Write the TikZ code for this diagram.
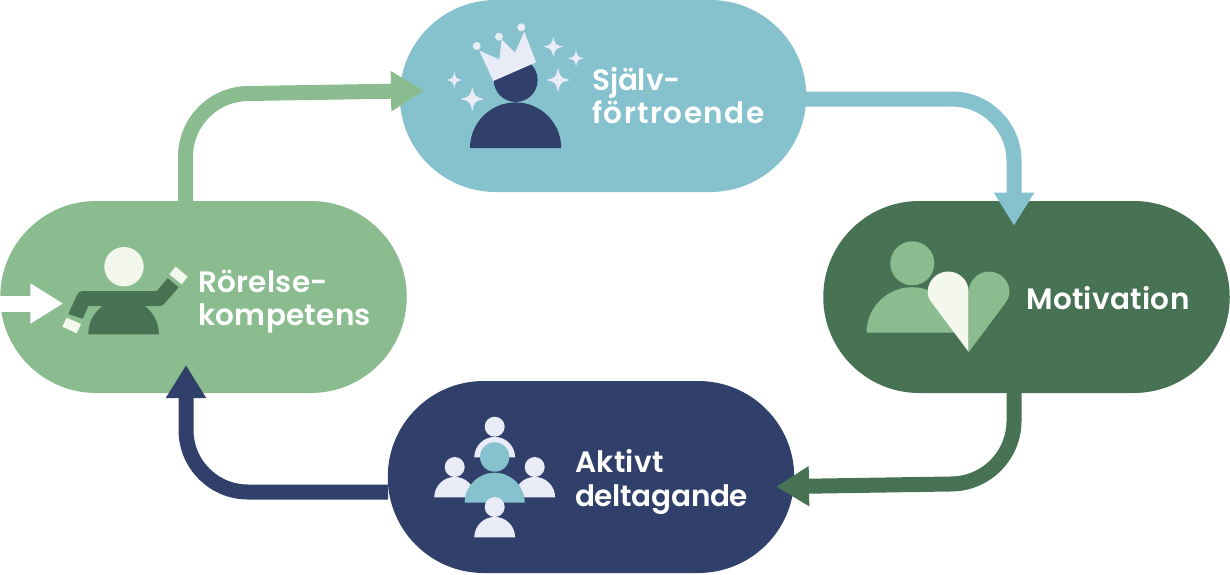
\documentclass[tikz,border=0pt]{standalone}
\usepackage{fontspec}
\setmainfont{Poppins}[BoldFont={Poppins SemiBold},LetterSpace=1]
\usetikzlibrary{arrows.meta}
\definecolor{lgreen}{HTML}{8ABC90}
\definecolor{dgreen}{HTML}{477254}
\definecolor{lblue}{HTML}{86C1CE}
\definecolor{navy}{HTML}{30406A}
\definecolor{paleb}{HTML}{E9EBF6}
\definecolor{paleg}{HTML}{F4F7EC}
\tikzset{
 pill/.style={rounded corners=96pt,minimum width=406.5pt,minimum height=192pt,inner sep=0pt,draw=none},
 lab/.style={text=white,font=\fontsize{29.5}{33.5}\selectfont\bfseries,align=left,anchor=west,inner sep=0pt},
 conn/.style={line width=15pt,rounded corners=62pt,-{Triangle[length=33pt,width=38pt]}},
}
\begin{document}
\begin{tikzpicture}[x=1pt,y=-1pt]
\useasboundingbox (0,0) rectangle (1230,574);
\node[pill,fill=lblue] (sj) at (603,96) {};
\node[pill,fill=lgreen] (ro) at (203.5,297) {};
\node[pill,fill=dgreen] (mo) at (1026.5,297) {};
\node[pill,fill=navy] (ak) at (591,477) {};
\node[lab] (tsj) at (592,95.5) {{\addfontfeature{LetterSpace=-0.5}Själv-}\\{\addfontfeature{LetterSpace=5}förtroende}};
\node[lab] (tro) at (198,301.5) {Rörelse-\\kompetens};
\node[lab] (tmo) at (1026,298) {Motivation};
\node[lab] (tak) at (575,482) {Aktivt\\{\addfontfeature{LetterSpace=-1}deltagande}};
% connectors
\coordinate (c1a) at (185.5,201);\coordinate (c1b) at (185.5,94.5);\coordinate (c1c) at (424,90.7);
\draw[conn,draw=lgreen] (c1a) -- (c1b) -- (c1c);
\coordinate (c2a) at (806,99);\coordinate (c2b) at (1014,99);\coordinate (c2c) at (1014,225.7);
\draw[conn,draw=lblue] (c2a) -- (c2b) -- (c2c);
\coordinate (c3a) at (1014,393);\coordinate (c3b) at (1014,483);\coordinate (c3c) at (776,486.7);
\draw[conn,draw=dgreen] (c3a) -- (c3b) -- (c3c);
\coordinate (c4a) at (388,492);\coordinate (c4b) at (186,492);\coordinate (c4c) at (186,365);
\draw[conn,draw=navy] (c4a) -- (c4b) -- (c4c);
\coordinate (c5a) at (0,303.5);\coordinate (c5c) at (63.3,303.5);
\draw[white,line width=16pt,-{Triangle[length=33pt,width=38pt]}] (c5a) -- (c5c);
% Sjalv icon
\fill[navy] (515.7,80) circle (22);
\fill[navy] (470,148) arc (180:360:45.6) -- cycle;
\fill[paleb] (493.3,81) -- (479.3,50.7) -- (499.3,59.3) -- (501.7,39.3) -- (515,52.7) -- (524.3,31.7) -- (536,62.3) -- cycle;
\fill[paleb] (476.7,46) circle (4) (499,36.7) circle (4) (521.3,27.3) circle (4);
\def\spark#1#2#3{\fill[paleb] (#1-#3,#2) .. controls (#1-#3*.2,#2-#3*.2) .. (#1,#2-#3) .. controls (#1+#3*.2,#2-#3*.2) .. (#1+#3,#2) .. controls (#1+#3*.2,#2+#3*.2) .. (#1,#2+#3) .. controls (#1-#3*.2,#2+#3*.2) .. cycle;}
\spark{553.3}{46.7}{10}\spark{576}{58.3}{8}\spark{558}{80}{12}\spark{454.3}{80}{8}\spark{472.3}{99}{12}
% Rorelse icon
\fill[paleg] (124,266.7) circle (19.7);
\fill[dgreen] (88.3,334.3) arc (180:360:35.3) -- cycle;
\fill[dgreen] (68.3,314) -- (77,295) .. controls (78.5,292) and (80,291) .. (83,291) -- (156.7,291) -- (167.7,278.3) -- (178.7,287.3) -- (164,304) .. controls (162.5,305.5) and (161,306) .. (159,306) -- (88.3,306) -- (82.7,318.7) -- cycle;
\fill[paleg] (66.7,317.7) -- (81,324) -- (76.7,333.3) -- (62.3,326.7) -- cycle;
\fill[paleg] (175.7,266.7) -- (187.7,276.7) -- (181.7,284.3) -- (169.3,274.3) -- cycle;
% Motivation icon
\fill[lgreen] (912.3,263.3) circle (22);
\fill[lgreen] (866.5,332.7) arc (180:360:45.5) -- cycle;
\fill[paleg] (968.7,352) -- (968.7,292) arc (360:180:20.5) .. controls (927.7,296) and (929,299) .. (932,303) -- cycle;
\fill[lgreen] (968.7,352) -- (968.7,292) arc (180:360:20.4) .. controls (1009.5,296) and (1008,299) .. (1005.4,303) -- cycle;
% Aktivt icon
\fill[paleb] (494.7,426.7) circle (10);
\fill[paleb] (474.3,457.3) arc (180:360:20.4) -- cycle;
\fill[paleb] (454.7,467) circle (10);
\fill[paleb] (434.3,497.3) arc (180:360:20.4) -- cycle;
\fill[paleb] (534.7,467) circle (10);
\fill[paleb] (514.3,497.3) arc (180:360:20.4) -- cycle;
\fill[lblue] (494.7,457) circle (14.7);
\fill[lblue] (464.7,502.7) arc (180:360:30) -- cycle;
\fill[paleb] (494.7,507) circle (10);
\fill[paleb] (474.3,537.3) arc (180:360:20.4) -- cycle;
\end{tikzpicture}
\end{document}
